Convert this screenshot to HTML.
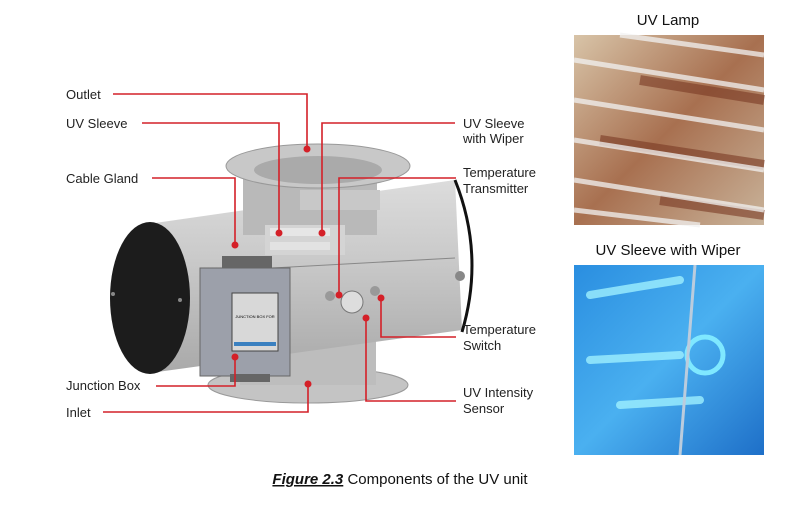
<!DOCTYPE html>
<html><head><meta charset="utf-8"><style>
body{margin:0;background:#fff;}
svg{display:block;}
.l{font-family:"Liberation Sans",sans-serif;font-size:13px;fill:#222;}
.c{font-family:"Liberation Sans",sans-serif;font-size:15px;fill:#111;}
</style></head><body>
<svg width="800" height="509" viewBox="0 0 800 509">
<defs>
<linearGradient id="cyl" x1="0" y1="0" x2="0" y2="1">
<stop offset="0" stop-color="#dcdcdc"/><stop offset="0.4" stop-color="#cacaca"/><stop offset="1" stop-color="#a9a9a9"/></linearGradient>
<linearGradient id="lamp" x1="0" y1="0" x2="1" y2="1">
<stop offset="0" stop-color="#d8c4a8"/><stop offset="0.5" stop-color="#a87050"/><stop offset="1" stop-color="#c9b39a"/></linearGradient>
<linearGradient id="blue" x1="0" y1="0" x2="1" y2="1">
<stop offset="0" stop-color="#2a8ee0"/><stop offset="0.5" stop-color="#4ab0f0"/><stop offset="1" stop-color="#1e6fc8"/></linearGradient>
</defs>
<!-- bottom flange -->
<ellipse cx="308" cy="385" rx="100" ry="18" fill="#c4c4c4" stroke="#999"/>
<rect x="240" y="330" width="136" height="55" fill="#bdbdbd"/>
<!-- cylinder -->
<path d="M148 224 L455 180 L462 330 L150 373 Z" fill="url(#cyl)"/>
<path d="M455 180 Q485 255 462 332" fill="none" stroke="#111" stroke-width="3"/>
<!-- top flange -->
<rect x="243" y="165" width="134" height="70" fill="#b9b9b9"/>
<rect x="300" y="190" width="80" height="20" fill="#c8c8c8"/>
<ellipse cx="318" cy="166" rx="92" ry="22" fill="#c8c8c8" stroke="#999"/>
<ellipse cx="318" cy="170" rx="64" ry="14" fill="#aaa"/>
<rect x="265" y="225" width="80" height="30" fill="#d4d4d4"/>
<rect x="270" y="228" width="60" height="8" fill="#e6e6e6"/>
<rect x="270" y="242" width="60" height="8" fill="#e2e2e2"/>
<line x1="200" y1="272" x2="455" y2="258" stroke="#888"/>
<!-- left black cap -->
<ellipse cx="150" cy="298" rx="40" ry="76" fill="#1c1c1c"/>
<circle cx="113" cy="294" r="2" fill="#888"/><circle cx="180" cy="300" r="2" fill="#888"/>
<!-- junction box -->
<rect x="200" y="268" width="90" height="108" fill="#9ca0aa" stroke="#666"/>
<rect x="232" y="293" width="46" height="58" fill="#d8d8d8" stroke="#444"/>
<rect x="234" y="342" width="42" height="4" fill="#3a80c0"/>
<text x="255" y="318" font-size="4" font-family="Liberation Sans" text-anchor="middle">JUNCTION BOX FOR</text>
<rect x="222" y="256" width="50" height="12" fill="#666"/>
<rect x="230" y="374" width="40" height="8" fill="#666"/>
<!-- sensors -->
<circle cx="352" cy="302" r="11" fill="#ddd" stroke="#777"/>
<circle cx="330" cy="296" r="5" fill="#999"/><circle cx="375" cy="291" r="5" fill="#999"/>
<circle cx="460" cy="276" r="5" fill="#888"/>
<!-- leader lines -->
<g stroke="#d42028" stroke-width="1.6" fill="none">
<polyline points="113,94 307,94 307,149"/>
<polyline points="142,123 279,123 279,233"/>
<polyline points="455,123 322,123 322,233"/>
<polyline points="152,178 235,178 235,245"/>
<polyline points="456,178 339,178 339,295"/>
<polyline points="456,337 381,337 381,298"/>
<polyline points="456,401 366,401 366,318"/>
<polyline points="156,386 235,386 235,357"/>
<polyline points="103,412 308,412 308,384"/>
</g>
<g fill="#d42028">
<circle cx="307" cy="149" r="3.5"/><circle cx="279" cy="233" r="3.5"/><circle cx="322" cy="233" r="3.5"/>
<circle cx="235" cy="245" r="3.5"/><circle cx="339" cy="295" r="3.5"/><circle cx="381" cy="298" r="3.5"/>
<circle cx="366" cy="318" r="3.5"/><circle cx="235" cy="357" r="3.5"/><circle cx="308" cy="384" r="3.5"/>
</g>
<g class="l">
<text x="66" y="99">Outlet</text>
<text x="66" y="128">UV Sleeve</text>
<text x="66" y="183">Cable Gland</text>
<text x="66" y="390">Junction Box</text>
<text x="66" y="417">Inlet</text>
<text x="463" y="128">UV Sleeve</text><text x="463" y="143">with Wiper</text>
<text x="463" y="177">Temperature</text><text x="463" y="193">Transmitter</text>
<text x="463" y="334">Temperature</text><text x="463" y="350">Switch</text>
<text x="463" y="397">UV Intensity</text><text x="463" y="413">Sensor</text>
</g>
<!-- photos -->
<text class="c" x="668" y="25" text-anchor="middle">UV Lamp</text>
<rect x="574" y="35" width="190" height="190" fill="url(#lamp)"/>
<g stroke="#7a3a24" stroke-width="10" opacity="0.6">
<line x1="640" y1="80" x2="764" y2="100"/><line x1="600" y1="140" x2="764" y2="165"/>
<line x1="660" y1="200" x2="764" y2="215"/>
</g>
<g stroke="#f2f2f2" stroke-width="5" opacity="0.75">
<line x1="574" y1="60" x2="764" y2="90"/><line x1="574" y1="100" x2="764" y2="130"/>
<line x1="574" y1="140" x2="764" y2="170"/><line x1="574" y1="180" x2="764" y2="210"/>
<line x1="574" y1="210" x2="700" y2="225"/><line x1="620" y1="35" x2="764" y2="55"/>
</g>
<text class="c" x="668" y="255" text-anchor="middle">UV Sleeve with Wiper</text>
<rect x="574" y="265" width="190" height="190" fill="url(#blue)"/>
<g stroke="#9ef0ff" stroke-width="8" opacity="0.8" stroke-linecap="round">
<line x1="590" y1="295" x2="680" y2="280"/><line x1="590" y1="360" x2="680" y2="355"/>
<line x1="620" y1="405" x2="700" y2="400"/>
</g>
<circle cx="705" cy="355" r="18" fill="none" stroke="#7fe8ff" stroke-width="5"/>
<line x1="695" y1="265" x2="680" y2="455" stroke="#bcd" stroke-width="3"/>
<text class="c" x="400" y="484" text-anchor="middle"><tspan font-weight="bold" font-style="italic" text-decoration="underline">Figure 2.3</tspan> Components of the UV unit</text>
</svg>
</body></html>
